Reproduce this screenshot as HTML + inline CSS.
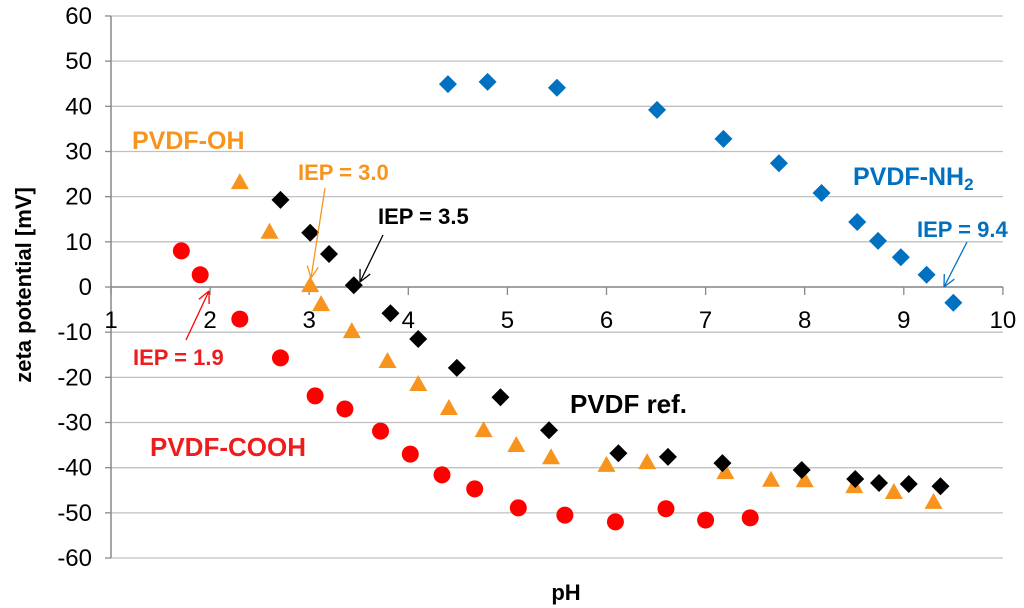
<!DOCTYPE html>
<html><head><meta charset="utf-8"><style>
body{margin:0;background:#fff;}
svg{display:block;font-family:"Liberation Sans",Arial,sans-serif;}
</style></head><body>
<svg id="chart" width="1024" height="608" viewBox="0 0 1024 608">
<g id="grid"></g>
<g id="axes"></g>
<g id="marks"></g>
<text x="31" y="285" transform="rotate(-90 31 285)" text-anchor="middle" font-size="22" font-weight="bold">zeta potential [mV]</text>
<text x="566" y="600" text-anchor="middle" font-size="22" font-weight="bold">pH</text>
<g font-weight="bold">
<text x="132" y="149" font-size="25" fill="#f7941d">PVDF-OH</text>
<text x="298" y="180" font-size="22" fill="#f7941d">IEP = 3.0</text>
<text x="378" y="224" font-size="22" fill="#000">IEP = 3.5</text>
<text x="133" y="365" font-size="22" fill="#ee1c1c">IEP = 1.9</text>
<text x="150" y="456" font-size="26" fill="#ee1c1c">PVDF-COOH</text>
<text x="570" y="413" font-size="26" fill="#000">PVDF ref.</text>
<text x="853" y="185" font-size="25" fill="#0070c0">PVDF-NH<tspan font-size="17" dy="5">2</tspan></text>
<text x="917" y="237" font-size="22" fill="#0070c0">IEP = 9.4</text>
</g>
<g id="arrows" fill="none" stroke-width="1.3"></g>
</svg>
<script>
const xTicks=[1,2,3,4,5,6,7,8,9,10];
const yTicks=[60,50,40,30,20,10,0,-10,-20,-30,-40,-50,-60];
const cooh_x=[1.71,1.90,2.30,2.71,3.06,3.36,3.72,4.02,4.34,4.67,5.11,5.58,6.09,6.60,7.00,7.45];
const cooh_y=[8.0,2.7,-7.1,-15.7,-24.1,-27.0,-31.9,-37.0,-41.6,-44.7,-48.9,-50.5,-52.0,-49.1,-51.6,-51.1];
const oh_x=[2.30,2.60,3.01,3.12,3.43,3.79,4.10,4.41,4.76,5.09,5.44,6.00,6.41,7.20,7.66,8.00,8.50,8.90,9.30];
const oh_y=[23,12,0.2,-4,-10,-16.6,-21.7,-27,-31.9,-35.2,-37.9,-39.6,-39,-41.2,-42.9,-43,-44.3,-45.6,-47.8];
const ref_x=[2.71,3.01,3.20,3.45,3.82,4.10,4.49,4.93,5.42,6.12,6.62,7.17,7.97,8.51,8.75,9.05,9.37];
const ref_y=[19.3,12,7.3,0.4,-5.8,-11.5,-17.9,-24.4,-31.7,-36.8,-37.6,-39,-40.5,-42.5,-43.4,-43.6,-44.1];
const nh2_x=[4.40,4.80,5.50,6.51,7.18,7.74,8.17,8.53,8.74,8.97,9.23,9.50];
const nh2_y=[44.9,45.4,44.1,39.2,32.8,27.4,20.8,14.4,10.2,6.6,2.7,-3.5];
const X=v=>111+(v-1)*99.1, Y=v=>287-v*4.517;
const NS="http://www.w3.org/2000/svg";
function mk(tag,attrs,parent){const e=document.createElementNS(NS,tag);for(const k in attrs)e.setAttribute(k,attrs[k]);parent.appendChild(e);return e;}
const grid=document.getElementById('grid'),axes=document.getElementById('axes'),marks=document.getElementById('marks'),arrows=document.getElementById('arrows');
yTicks.forEach(t=>{
 const l=mk('line',{x1:X(1),x2:X(10),y1:Y(t),y2:Y(t),stroke:'#c0c0c0','stroke-width':1.3},grid);
 
 
 mk('line',{x1:X(1)-6,x2:X(1),y1:Y(t),y2:Y(t),stroke:'#888','stroke-width':1.3},axes);
 const tx=mk('text',{x:92,y:Y(t)+8,'text-anchor':'end','font-size':24},axes);tx.textContent=t;
 
 
});
mk('line',{x1:X(1),x2:X(1),y1:Y(60),y2:Y(-60),stroke:'#888','stroke-width':1.5},axes);
mk('line',{x1:X(1),x2:X(10),y1:Y(0),y2:Y(0),stroke:'#888','stroke-width':1.5},axes);
xTicks.forEach(t=>{
 mk('line',{x1:X(t),x2:X(t),y1:Y(0),y2:Y(0)+8,stroke:'#888','stroke-width':1.3},axes);
 const tx=mk('text',{x:X(t),y:Y(0)+41,'text-anchor':'middle','font-size':24},axes);tx.textContent=t;
 
 
});
cooh_x.forEach((v,i)=>{const c=mk('circle',{cx:X(v),cy:Y(cooh_y[i]),r:8.5,fill:'#ff0000'},marks);
 
 });
oh_x.forEach((v,i)=>{const x=X(v),y=Y(oh_y[i]);const p=mk('polygon',{points:`${x},${y-10} ${x+9},${y+6} ${x-9},${y+6}`,fill:'#f7941d'},marks);
 
 });
function diamond(xs,ys,col,name){xs.forEach((v,i)=>{const x=X(v),y=Y(ys[i]);const p=mk('polygon',{points:`${x},${y-9} ${x+9},${y} ${x},${y+9} ${x-9},${y}`,fill:col},marks);
 
 });}
diamond(ref_x,ref_y,'#000','point-pvdf-ref');
diamond(nh2_x,nh2_y,'#0070c0','point-pvdf-nh2');
function arrow(x1,y1,x2,y2,col){mk('line',{x1,y1,x2,y2,stroke:col},arrows);
 const a=Math.atan2(y2-y1,x2-x1),L=13;
 [0.45,-0.45].forEach(d=>mk('line',{x1:x2,y1:y2,x2:x2-L*Math.cos(a+d),y2:y2-L*Math.sin(a+d),stroke:col},arrows));}
arrow(325,188,311,278,'#f7941d');
arrow(383,235,360,282,'#000');
arrow(186,340,209,291,'#ff0000');
arrow(967,242,944,287,'#0070c0');
</script>
</body></html>
